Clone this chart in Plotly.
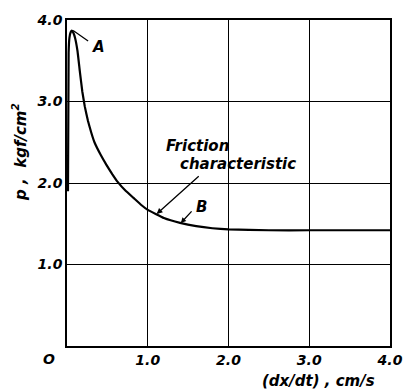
import plotly.graph_objects as go

# Data
velocity = [0.012, 0.02, 0.03, 0.045, 0.06, 0.08, 0.10, 0.13, 0.16, 0.19, 0.22, 0.26,
            0.30, 0.34, 0.42, 0.49, 0.56, 0.63, 0.72, 0.82, 0.92, 1.0, 1.2, 1.4, 1.6,
            1.8, 2.0, 2.5, 3.0, 3.5, 4.0]
pressure = [1.9, 3.6, 3.78, 3.85, 3.87, 3.84, 3.78, 3.62, 3.36, 3.12, 2.94, 2.76,
            2.62, 2.50, 2.34, 2.22, 2.11, 2.01, 1.91, 1.82, 1.73, 1.67, 1.57, 1.51, 1.47,
            1.445, 1.43, 1.42, 1.42, 1.42, 1.42]

x_ticks = [1, 2, 3, 4]
x_tick_labels = ["1.0", "2.0", "3.0", "4.0"]
y_ticks = [1, 2, 3, 4]
y_tick_labels = ["1.0", "2.0", "3.0", "4.0"]

FONT = "DejaVu Sans"
tickfont = dict(family=FONT, size=14, color="black", style="italic", weight="bold")
txtfont = dict(family=FONT, size=15, color="black", style="italic", weight="bold")

fig = go.Figure()
fig.add_trace(go.Scatter(x=velocity, y=pressure, mode="lines",
                         line=dict(color="black", width=2.2, shape="spline", smoothing=0.3),
                         showlegend=False, hoverinfo="skip"))

axis_common = dict(range=[0, 4], showgrid=True, gridcolor="black", gridwidth=1.4,
                   zeroline=False, showline=True, linecolor="black", linewidth=1.6,
                   mirror=True, ticks="", tickfont=tickfont, fixedrange=True)

fig.update_xaxes(tickvals=x_ticks, ticktext=x_tick_labels, **axis_common)
fig.update_yaxes(tickvals=y_ticks, ticktext=y_tick_labels, **axis_common)

annotations = [
    # A marker
    dict(x=0.076, y=3.87, ax=0.28, ay=3.73, xref="x", yref="y", axref="x", ayref="y",
         text="", showarrow=True, arrowhead=0, arrowwidth=1.3, arrowcolor="black"),
    dict(x=0.28, y=3.67, xref="x", yref="y", text="A", showarrow=False,
         xanchor="left", yanchor="middle", font=txtfont),
    # Friction characteristic
    dict(x=1.11, y=1.62, ax=1.65, ay=2.10, xref="x", yref="y", axref="x", ayref="y",
         text="", showarrow=True, arrowhead=2, arrowsize=0.9, arrowwidth=1.3,
         arrowcolor="black"),
    dict(x=1.20, y=2.45, xref="x", yref="y", text="Friction", showarrow=False,
         xanchor="left", yanchor="middle", font=txtfont),
    dict(x=1.38, y=2.23, xref="x", yref="y", text="characteristic", showarrow=False,
         xanchor="left", yanchor="middle", font=txtfont),
    # B marker
    dict(x=1.41, y=1.51, ax=1.56, ay=1.67, xref="x", yref="y", axref="x", ayref="y",
         text="", showarrow=True, arrowhead=2, arrowsize=0.8, arrowwidth=1.3,
         arrowcolor="black"),
    dict(x=1.57, y=1.70, xref="x", yref="y", text="B", showarrow=False,
         xanchor="left", yanchor="middle", font=txtfont),
    # Origin label
    dict(x=-0.057, y=-0.039, xref="paper", yref="paper", text="O", showarrow=False,
         xanchor="center", yanchor="middle", font=tickfont),
    # Axis titles
    dict(x=0.778, y=-0.108, xref="paper", yref="paper", text="(dx/dt) , cm/s",
         showarrow=False, xanchor="center", yanchor="middle", font=txtfont),
    dict(x=-0.148, y=0.596, xref="paper", yref="paper", text="p ,  kgf/cm<sup>2</sup>",
         showarrow=False, xanchor="center", yanchor="middle", textangle=-90, font=txtfont),
]

fig.update_layout(width=415, height=390, margin=dict(l=67, r=19, t=14, b=44),
                  paper_bgcolor="white", plot_bgcolor="white",
                  annotations=annotations, showlegend=False)

fig.write_html("out.html", config={"displayModeBar": False},
               post_script="document.body.style.margin='0';document.body.style.overflow='hidden';")
